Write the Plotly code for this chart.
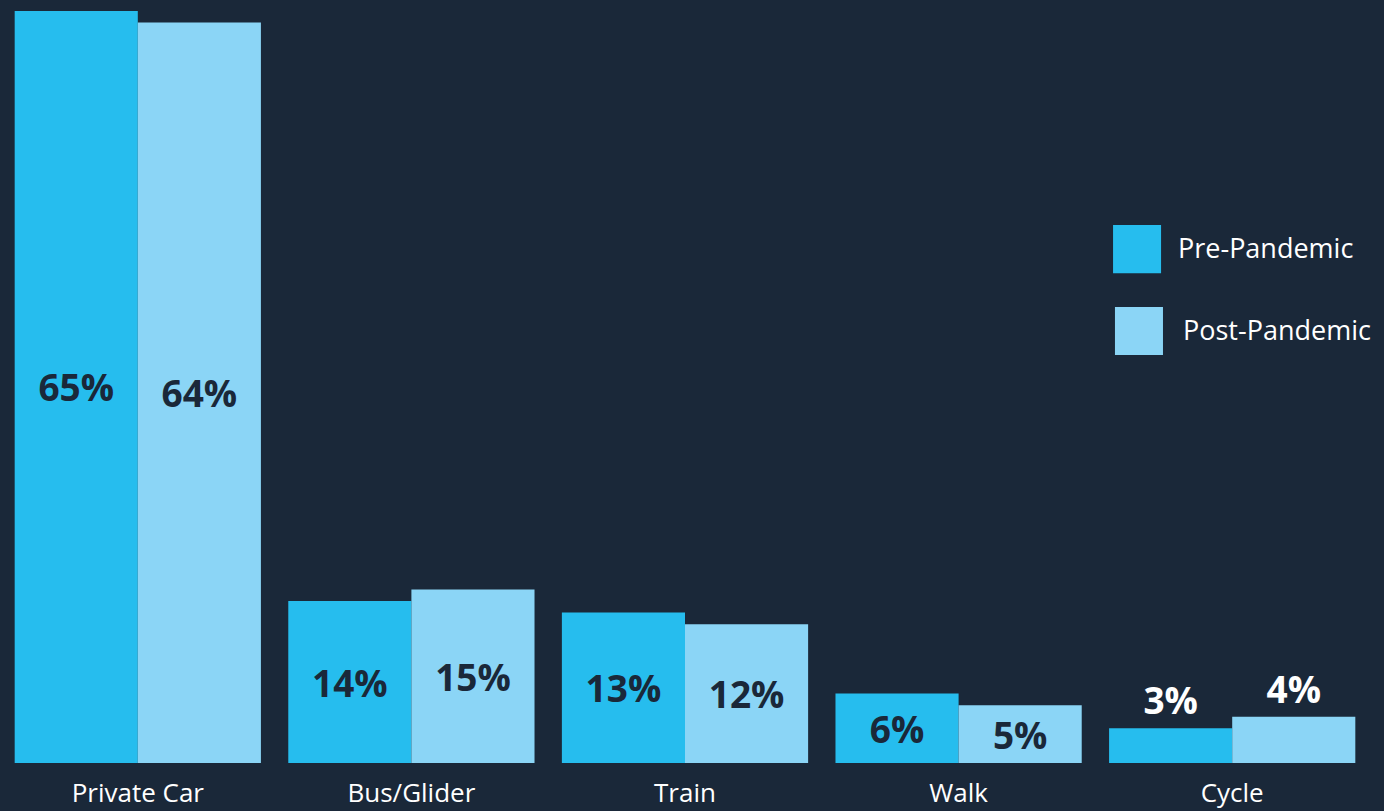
import plotly.graph_objects as go

categories = ["Private Car", "Bus/Glider", "Train", "Walk", "Cycle"]
pre_pandemic = [65, 14, 13, 6, 3]
post_pandemic = [64, 15, 12, 5, 4]
series_names = ["Pre-Pandemic", "Post-Pandemic"]

BG = "#1A2839"
PRE = "#26BDEE"
POST = "#8BD5F6"
FONT = "Open Sans"

def text_pos(vals):
    return ["outside" if v < 5 else "inside" for v in vals]

def text_col(vals):
    return ["#FFFFFF" if v < 5 else BG for v in vals]

fig = go.Figure()
for name, vals, col in [(series_names[0], pre_pandemic, PRE), (series_names[1], post_pandemic, POST)]:
    fig.add_trace(go.Bar(
        x=categories, y=vals, name=name,
        marker=dict(color=col, line=dict(width=0)),
        text=[f"{v}%" for v in vals],
        textposition=text_pos(vals),
        insidetextanchor="middle",
        textfont=dict(family=FONT, size=37, color=text_col(vals), weight="bold"),
        cliponaxis=False,
        showlegend=False,
    ))

shapes = []
annotations = []
legend_items = [
    (series_names[0], PRE, 0.8129, 0.848, 0.642, 0.705, 0.8589, 0.675),
    (series_names[1], POST, 0.8143, 0.8494, 0.5347, 0.5976, 0.8626, 0.5675),
]
for name, col, x0, x1, y0, y1, tx, ty in legend_items:
    shapes.append(dict(type="rect", xref="paper", yref="paper", x0=x0, x1=x1, y0=y0, y1=y1,
                       fillcolor=col, line=dict(width=0)))
    annotations.append(dict(text=name, xref="paper", yref="paper", x=tx, y=ty,
                            xanchor="left", yanchor="middle", showarrow=False,
                            font=dict(family=FONT, size=27, color="#FFFFFF")))

fig.update_layout(
    width=1384, height=811,
    paper_bgcolor=BG, plot_bgcolor=BG,
    margin=dict(l=1, r=15, t=0, b=48, autoexpand=False),
    barmode="group", bargap=0.1, bargroupgap=0,
    xaxis=dict(type="category", range=[-0.5, 4.5], showgrid=False, showline=False,
               zeroline=False, ticks="", ticklabelstandoff=12, automargin=False,
               tickfont=dict(family=FONT, size=26, color="#FFFFFF")),
    yaxis=dict(visible=False, range=[0, 65.95], showgrid=False, zeroline=False, automargin=False),
    shapes=shapes, annotations=annotations,
)

fig.write_html(
    "out.html",
    config={"displayModeBar": False},
    post_script="document.body.style.margin='0';document.body.style.background='%s';document.body.style.overflow='hidden';" % BG,
)
